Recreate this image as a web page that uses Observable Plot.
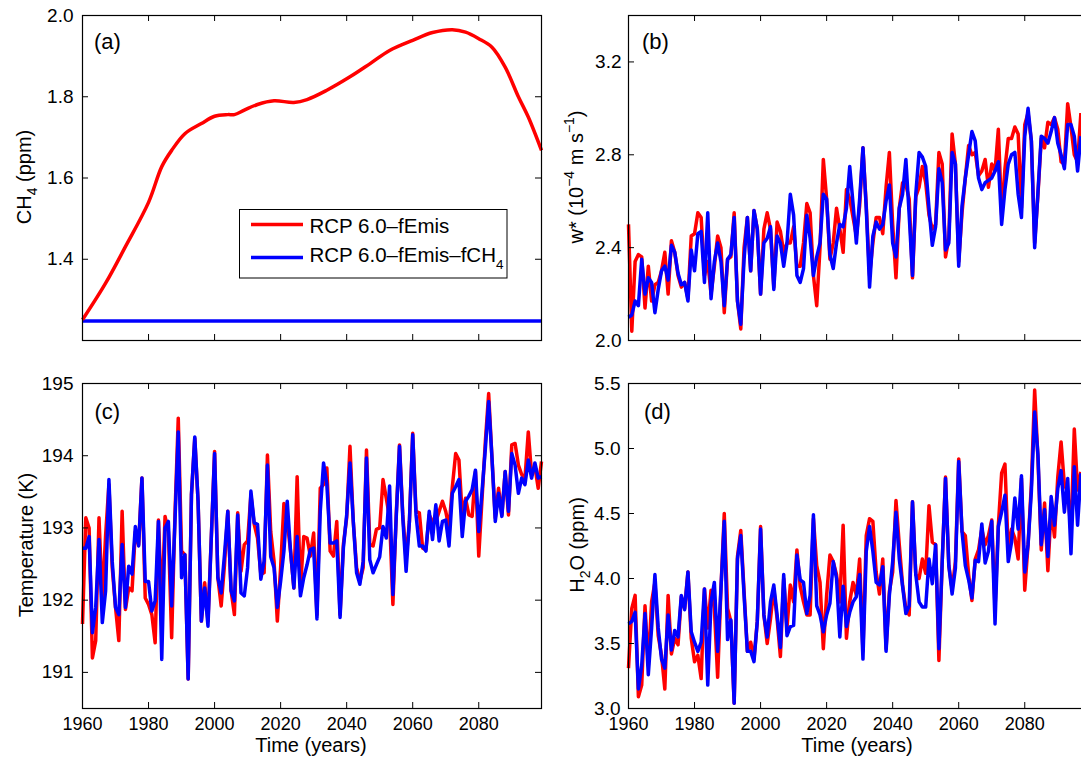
<!DOCTYPE html>
<html><head><meta charset="utf-8">
<script src="https://cdn.jsdelivr.net/npm/d3@7"></script>
<script src="https://cdn.jsdelivr.net/npm/@observablehq/plot@0.6"></script>
<style>
html,body{margin:0;padding:0;background:#fff;overflow:hidden;}
#wrap{position:relative;width:1081px;height:763px;overflow:hidden;background:#fff;font-family:"Liberation Sans",Arial,sans-serif;}
#wrap svg{position:absolute;overflow:visible;max-width:none;}
</style></head><body><div id="wrap"></div>
<script>
// ---------- data ----------
const years = d3.range(1960, 2100);
const xTicks = [1960, 1980, 2000, 2020, 2040, 2060, 2080];

const ch4Years = [1960,1967,1973,1980,1984,1987,1991,1996,2000,2004,2006,2009,2013,2018,2024,2028,2034,2041,2047,2053,2060,2066,2072,2076,2080,2084,2088,2092,2095,2099];
const ch4Red = [1.251,1.341,1.431,1.54,1.628,1.668,1.709,1.734,1.752,1.756,1.756,1.767,1.781,1.790,1.786,1.793,1.816,1.849,1.881,1.914,1.939,1.958,1.965,1.959,1.943,1.922,1.873,1.800,1.750,1.668];
const ch4BlueYears = [1960, 2099];
const ch4Blue = [1.248, 1.248];

const wRed = [2.50,2.04,2.34,2.37,2.36,2.14,2.32,2.17,2.24,2.25,
2.30,2.38,2.20,2.43,2.38,2.28,2.23,2.25,2.18,2.45,
2.46,2.55,2.53,2.28,2.34,2.20,2.32,2.45,2.40,2.12,
2.35,2.36,2.55,2.17,2.05,2.40,2.53,2.30,2.56,2.48,
2.20,2.48,2.55,2.48,2.23,2.51,2.47,2.38,2.42,2.42,
2.49,2.32,2.32,2.42,2.59,2.55,2.28,2.15,2.40,2.78,
2.61,2.35,2.42,2.57,2.48,2.38,2.65,2.61,2.53,2.45,
2.58,2.83,2.58,2.28,2.42,2.53,2.53,2.46,2.66,2.81,
2.50,2.27,2.57,2.68,2.67,2.61,2.27,2.62,2.66,2.75,
2.68,2.54,2.48,2.50,2.81,2.76,2.36,2.44,2.89,2.76,
2.34,2.55,2.70,2.84,2.80,2.81,2.71,2.73,2.78,2.66,
2.76,2.73,2.91,2.54,2.74,2.87,2.87,2.92,2.89,2.57,
2.93,2.98,2.86,2.42,2.63,2.87,2.83,2.94,2.93,2.96,
2.91,2.77,2.76,3.02,2.92,2.80,2.77,2.98];
const wBlue = [2.10,2.11,2.17,2.15,2.35,2.20,2.27,2.25,2.12,2.22,
2.30,2.32,2.26,2.41,2.38,2.29,2.24,2.25,2.17,2.39,
2.30,2.46,2.47,2.25,2.55,2.18,2.34,2.42,2.34,2.15,
2.35,2.37,2.53,2.17,2.07,2.35,2.53,2.30,2.56,2.48,
2.20,2.42,2.44,2.49,2.22,2.45,2.42,2.32,2.42,2.63,
2.54,2.28,2.25,2.31,2.54,2.44,2.28,2.36,2.42,2.63,
2.61,2.37,2.31,2.42,2.50,2.49,2.57,2.75,2.59,2.42,
2.61,2.83,2.57,2.23,2.45,2.51,2.48,2.50,2.60,2.67,
2.42,2.36,2.57,2.63,2.78,2.54,2.28,2.63,2.81,2.79,
2.75,2.57,2.41,2.49,2.74,2.68,2.39,2.42,2.81,2.76,
2.32,2.58,2.70,2.80,2.90,2.86,2.70,2.65,2.68,2.69,
2.70,2.73,2.77,2.50,2.65,2.76,2.80,2.81,2.63,2.53,
2.88,3.00,2.86,2.40,2.64,2.88,2.87,2.85,2.90,2.96,
2.85,2.80,2.74,2.93,2.93,2.88,2.73,2.88];

const tempRed = [191.67,193.14,193.0,191.2,191.44,193.14,191.99,192.9,193.6,192.45,
191.9,191.44,193.23,191.87,192.17,192.13,192.95,192.77,193.69,192.03,
191.94,191.8,191.41,193.11,191.9,193.16,192.95,191.48,193.18,194.52,
192.68,192.63,190.91,193.46,194.24,193.37,191.71,192.24,191.71,192.86,
194.06,192.31,191.92,192.49,193.23,192.13,191.8,193.21,192.4,192.77,
192.82,193.46,193.05,192.86,192.36,192.38,194.01,192.95,192.54,191.71,
192.45,193.34,193.09,192.68,192.17,193.71,192.17,192.88,192.86,192.61,
192.93,191.8,193.55,193.6,193.83,192.68,192.61,193.09,191.8,192.77,
193.14,194.13,193.09,192.45,192.26,192.45,194.08,192.77,192.75,192.98,
193.0,193.67,193.41,193.14,191.94,193.18,194.15,193.18,192.56,193.09,
194.31,193.23,193.21,192.72,192.7,193.18,193.09,193.09,193.23,193.37,
193.23,193.0,193.57,194.03,193.94,193.18,193.41,193.18,193.16,193.78,
192.61,193.41,194.2,194.86,193.97,193.14,193.55,193.18,193.78,193.18,
194.15,194.17,193.87,193.74,193.69,194.33,193.74,193.85,193.55,193.92];
const tempBlue = [192.72,192.72,192.88,191.55,191.9,192.84,191.69,192.13,193.67,192.54,
191.9,191.8,192.77,191.9,192.47,192.36,193.02,192.75,193.69,192.26,
192.26,191.85,191.99,193.09,191.18,193.0,193.09,191.92,193.09,194.33,
192.31,192.63,190.91,193.46,194.26,193.37,191.71,192.17,191.64,192.86,
194.03,192.31,192.1,192.63,193.23,192.13,191.99,193.18,192.1,192.06,
192.45,193.51,193.07,193.05,192.29,192.54,193.87,192.6,192.45,191.9,
192.26,192.68,193.37,192.68,192.17,192.88,192.06,192.31,192.49,192.7,
192.72,191.74,193.23,193.9,193.6,192.79,192.79,192.82,191.76,192.72,
193.18,193.9,193.09,192.38,192.22,192.54,193.97,192.56,192.38,192.49,
192.6,193.02,192.86,193.58,192.08,193.14,194.13,193.14,192.4,193.09,
194.29,193.18,192.75,192.75,192.68,193.23,192.84,193.32,192.82,193.09,
193.11,192.75,193.48,193.57,193.67,192.88,193.37,193.44,193.53,193.8,
192.95,193.51,194.1,194.75,193.97,193.09,193.48,193.16,193.78,193.23,
194.03,193.87,193.48,193.69,193.6,193.94,193.69,193.9,193.69,193.71];

const h2oRed = [3.31,3.77,3.87,3.09,3.18,3.79,3.33,3.82,3.97,3.56,
3.41,3.15,3.87,3.42,3.54,3.49,3.86,3.77,4.05,3.54,
3.36,3.41,3.23,3.92,3.62,3.91,3.77,3.24,3.92,4.50,
3.77,3.67,3.04,4.17,4.37,3.90,3.44,3.51,3.38,3.67,
4.40,3.72,3.50,3.69,3.92,3.69,3.40,4.00,3.62,3.95,
3.82,4.22,3.94,3.82,3.72,3.72,4.46,4.10,3.97,3.46,
3.87,4.18,4.13,4.03,3.82,4.41,3.54,3.82,3.97,3.87,
4.15,3.44,4.33,4.46,4.44,4.05,3.88,4.15,3.46,3.90,
4.05,4.60,4.26,3.95,3.77,3.72,4.59,4.03,4.00,4.15,
4.04,4.56,4.28,4.26,3.37,4.13,4.78,4.10,3.92,4.13,
4.92,4.36,4.33,4.03,3.83,4.15,4.22,4.38,4.26,4.33,
4.45,3.77,4.41,4.81,4.88,4.21,4.38,4.31,4.15,4.77,
3.91,4.26,4.72,5.45,4.92,4.22,4.58,4.06,4.54,4.32,
4.78,5.05,4.72,4.67,4.36,5.15,4.68,4.82];
const h2oBlue = [3.65,3.67,3.74,3.15,3.33,3.73,3.26,3.62,4.03,3.62,
3.38,3.31,3.72,3.45,3.60,3.55,3.87,3.76,4.05,3.59,
3.51,3.44,3.51,3.92,3.18,3.82,3.97,3.44,3.92,4.44,
3.53,3.68,3.04,4.15,4.33,3.87,3.44,3.44,3.36,3.67,
4.38,3.72,3.55,3.82,3.95,3.72,3.47,4.03,3.56,3.63,
3.64,4.18,3.99,3.97,3.73,3.87,4.49,3.79,3.72,3.59,
3.72,3.81,4.13,4.00,3.55,3.94,3.63,3.74,3.82,3.86,
4.03,3.38,4.21,4.40,4.21,3.97,3.95,4.09,3.44,3.87,
4.13,4.51,4.15,3.94,3.73,3.79,4.59,4.03,3.82,3.78,
3.78,4.15,3.96,4.26,3.46,4.13,4.77,4.10,3.88,4.08,
4.90,4.36,4.10,3.99,3.85,4.14,4.13,4.42,4.12,4.21,
4.44,3.65,4.40,4.51,4.64,4.13,4.28,4.62,4.38,4.79,
4.05,4.26,4.67,5.28,4.95,4.26,4.53,4.17,4.63,4.41,
4.69,4.83,4.51,4.77,4.19,4.86,4.41,4.81];

const yTicksA = [1.4, 1.6, 1.8, 2.0];
const yTicksB = [2.0, 2.4, 2.8, 3.2];
const yTicksC = [191, 192, 193, 194, 195];
const yTicksD = [3.0, 3.5, 4.0, 4.5, 5.0, 5.5];

// ---------- drawing ----------
const RED = "#ff0000", BLUE = "#0000ff";
const wrap = document.getElementById("wrap");
const FONT = "'Liberation Sans', Arial, sans-serif";

function series(xs, ys, color, curve) {
  const rows = ys.map((v, i) => ({x: xs[i], y: v}));
  return Plot.line(rows, {x: "x", y: "y", stroke: color, strokeWidth: 3.5,
    strokeLinejoin: "round", strokeLinecap: "butt", curve: curve || "linear"});
}

function panel(cfg) {
  const W = 459, H = 325;
  const [x0, x1] = cfg.xDomain, [y0, y1] = cfg.yDomain;
  const kx = (x1 - x0) * 6 / W, ky = (y1 - y0) * 6 / H;
  const mb = cfg.xLabels ? 55 : 10;
  const marks = [
    ...cfg.lines,
    Plot.ruleY(cfg.yTicks, {x1: x0, x2: x0 + kx, stroke: "black", strokeWidth: 1}),
    Plot.ruleY(cfg.yTicks, {x1: x1 - kx, x2: x1, stroke: "black", strokeWidth: 1}),
    Plot.ruleX(xTicks, {y1: y0, y2: y0 + ky, stroke: "black", strokeWidth: 1}),
    Plot.ruleX(xTicks, {y1: y1 - ky, y2: y1, stroke: "black", strokeWidth: 1}),
    Plot.frame({stroke: "black", strokeWidth: 1.2}),
    Plot.axisY(cfg.yTicks, {tickSize: 0, tickPadding: cfg.yPad, tickFormat: cfg.yFormat, label: null, fontSize: 19})
  ];
  if (cfg.xLabels) marks.push(Plot.axisX(xTicks, {tickSize: 0, tickPadding: 9, tickFormat: "d", label: null, fontSize: 18}));
  const svg = Plot.plot({
    width: cfg.ml + W + 20, height: cfg.mt + H + mb,
    marginLeft: cfg.ml, marginTop: cfg.mt, marginRight: 20, marginBottom: mb,
    x: {domain: cfg.xDomain, axis: cfg.xLabels ? undefined : null},
    y: {domain: cfg.yDomain},
    style: {fontFamily: FONT, fontSize: "19px", color: "black", background: "transparent", overflow: "visible"},
    marks
  });
  svg.style.left = cfg.left + "px";
  svg.style.top = cfg.top + "px";
  wrap.appendChild(svg);
}

const XD = [1960, 2099];
panel({left: 0, top: 0, ml: 82, mt: 15, xDomain: XD, yDomain: [1.2, 2.0], yTicks: yTicksA, yFormat: d3.format(".1f"), yPad: 9, xLabels: false,
  lines: [series(ch4BlueYears, ch4Blue, BLUE), series(ch4Years, ch4Red, RED, "catmull-rom")]});
panel({left: 540, top: 0, ml: 88, mt: 15, xDomain: XD, yDomain: [2.0, 3.4], yTicks: yTicksB, yFormat: d3.format(".1f"), yPad: 7, xLabels: false,
  lines: [series(years, wRed, RED), series(years, wBlue, BLUE)]});
panel({left: 0, top: 360, ml: 82, mt: 23, xDomain: XD, yDomain: [190.5, 195], yTicks: yTicksC, yFormat: d3.format("d"), yPad: 9, xLabels: true,
  lines: [series(years, tempRed, RED), series(years, tempBlue, BLUE)]});
panel({left: 540, top: 360, ml: 88, mt: 23, xDomain: XD, yDomain: [3.0, 5.5], yTicks: yTicksD, yFormat: d3.format(".1f"), yPad: 8, xLabels: true,
  lines: [series(years, h2oRed, RED), series(years, h2oBlue, BLUE)]});

// ---------- text overlay (labels, legend) ----------
const ov = d3.select(wrap).append("svg")
  .attr("width", 1081).attr("height", 763)
  .style("left", "0px").style("top", "0px")
  .style("font-family", FONT).style("pointer-events", "none");

function richText(x, y, parts, rotate, anchor, size, subSize, subShift) {
  const base = size || 20;
  const t = ov.append("text")
    .attr("transform", `translate(${x},${y})` + (rotate ? ` rotate(${rotate})` : ""))
    .attr("text-anchor", anchor || "middle")
    .attr("font-size", base).attr("fill", "black");
  let shift = 0;
  for (const [s, kind] of parts) {
    const sp = t.append("tspan").text(s);
    let target = 0, fs = base;
    if (kind === "sub") { target = subShift || 6; fs = subSize || 14; }
    if (kind === "sup") { target = -9; fs = subSize || 14; }
    sp.attr("font-size", fs).attr("dy", target - shift);
    shift = target;
  }
  return t;
}

richText(31, 177, [["CH"], ["4", "sub"], [" (ppm)"]], -90);
richText(583, 177, [["w* (10"], ["\u22124", "sup"], [" m s"], ["\u22121", "sup"], [")"]], -90);
richText(33, 545, [["Temperature (K)"]], -90);
richText(584, 545, [["H"], ["2", "sub"], ["O (ppm)"]], -90);
richText(311, 752, [["Time (years)"]]);
richText(857, 752, [["Time (years)"]]);
richText(94, 49, [["(a)"]], 0, "start", 22);
richText(642, 49, [["(b)"]], 0, "start", 22);
richText(94.5, 419, [["(c)"]], 0, "start", 22);
richText(644, 419, [["(d)"]], 0, "start", 22);

// legend
ov.append("rect").attr("x", 239.5).attr("y", 209.5).attr("width", 267.5).attr("height", 68.5)
  .attr("fill", "white").attr("stroke", "black").attr("stroke-width", 1);
ov.append("line").attr("x1", 251).attr("x2", 303).attr("y1", 224.5).attr("y2", 224.5)
  .attr("stroke", RED).attr("stroke-width", 3.5);
ov.append("line").attr("x1", 251).attr("x2", 303).attr("y1", 257.5).attr("y2", 257.5)
  .attr("stroke", BLUE).attr("stroke-width", 3.5);
richText(309.5, 233.3, [["RCP 6.0\u2013fEmis"]], 0, "start", 20.5);
richText(309.5, 261.7, [["RCP 6.0\u2013fEmis\u2013fCH"], ["4", "sub"]], 0, "start", 20.5, 13.5, 7.5);
</script>
</body></html>
